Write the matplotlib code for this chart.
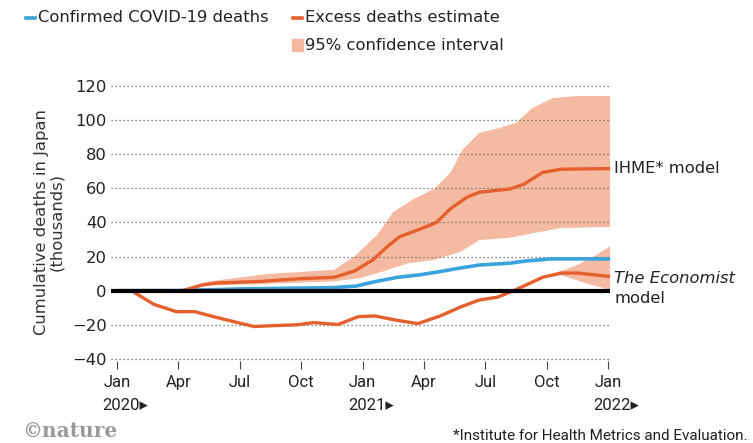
import matplotlib
matplotlib.use("Agg")
import matplotlib.pyplot as plt
from matplotlib.lines import Line2D
from matplotlib.patches import Rectangle
import numpy as np

# %% Data (x in months since Jan 2020, y in thousands of deaths)
ORANGE = "#e5602e"
BAND = "#f4baa2"
BLUE = "#3aa3dc"

confirmed_x = [0, 3, 6, 9, 10.6, 11.7, 12.5, 13.7, 14.8, 15.8, 16.8, 17.7, 19.2, 20, 21.2, 24.1]
confirmed_y = [0, 0.05, 1.0, 1.5, 1.8, 2.7, 5, 7.8, 9.3, 11.2, 13.3, 15, 16.1, 17.4, 18.6, 18.6]

ihme_x = [0, 3.2, 4.2, 4.9, 7.0, 8.9, 10.6, 11.6, 12.5, 13.2, 13.8, 14.8, 15.6, 16.3, 17.1, 17.7,
          19.2, 19.9, 20.8, 21.7, 24.1]
ihme_y = [0, 0, 3.5, 4.5, 5.4, 7, 7.8, 11.5, 18, 25.7, 31.5, 36, 39.8, 48, 54.7, 57.6,
          59.5, 62.4, 69.2, 71.1, 71.5]
ihme_hi_x = [3.2, 4.5, 7.3, 10.6, 11.6, 12.7, 13.5, 14.5, 15.5, 16.3, 16.9, 17.7, 18.7, 19.5,
             20.3, 21.3, 22.5, 24.1]
ihme_hi = [0, 5.4, 9.7, 12.2, 20, 32.5, 46, 53.7, 59.5, 69.2, 82.7, 92.4, 95.3, 98.2,
           106.9, 112.7, 114, 114]
ihme_lo_x = [3.2, 4.5, 7.0, 10.6, 11.9, 13.0, 14.2, 15.5, 16.8, 17.7, 19.2, 20.5, 21.7, 24.1]
ihme_lo = [0, 3, 3.9, 5.4, 7.4, 11.2, 16, 18, 22.8, 29.6, 31, 34, 36.7, 37.3]

econ_x = [0, 0.7, 1.8, 2.9, 3.8, 4.9, 5.9, 6.7, 7.6, 8.8, 9.6, 10.8, 11.8, 12.6, 13.7, 14.7,
          15.8, 16.8, 17.7, 18.6, 19.5, 20.8, 21.7, 22.5, 24.1]
econ_y = [0, 0, -8, -12.3, -12.3, -15.8, -18.7, -21, -20.5, -20, -18.7, -19.8, -15.2, -14.8,
          -17.4, -19.3, -14.8, -9.5, -5.5, -3.8, 0.6, 7.8, 10.3, 10.3, 8.3]
econ_ci_x = [20.8, 21.7, 22.5, 23.3, 24.1]
econ_hi = [7.8, 11.5, 15, 20, 26]
econ_lo = [7.8, 9, 6, 3, 0.5]

tick_months = list(range(0, 25, 3))
tick_names = ["Jan", "Apr", "Jul", "Oct"] * 2 + ["Jan"]
year_labels = {0: "2020▸", 12: "2021▸", 24: "2022▸"}
y_ticks = [-40, -20, 0, 20, 40, 60, 80, 100, 120]

FONT = ["DejaVu Sans"]
NARROW = ["Roboto", "DejaVu Sans"]
plt.rcParams["font.family"] = FONT
TXT = "#222222"
FS = 11.8

# %% Figure
fig = plt.figure(figsize=(7.53, 4.43), dpi=100)
ax = fig.add_axes([0.1473, 0.1858, 0.6643, 0.6246])
ax.set_xlim(-0.3, 24.15)
ax.set_ylim(-41, 121)
for s in ax.spines.values():
    s.set_visible(False)

# dotted grid (sits on top of the bands, under the lines)
grid_y = [v for v in y_ticks if v != 0]
ax.hlines(grid_y, -0.3, 24.05, colors="#666666", linestyles=(0, (1, 2.2)), lw=0.9, zorder=2)

# bands
ax.fill(np.concatenate([ihme_hi_x, ihme_lo_x[::-1]]),
        np.concatenate([ihme_hi, ihme_lo[::-1]]), color=BAND, lw=0, zorder=1)
ax.fill(np.concatenate([econ_ci_x, econ_ci_x[::-1]]),
        np.concatenate([econ_hi, econ_lo[::-1]]), color=BAND, lw=0, zorder=1)

ax.plot(confirmed_x, confirmed_y, color=BLUE, lw=2.6, zorder=3, solid_capstyle="butt")
ax.plot(ihme_x, ihme_y, color=ORANGE, lw=2.4, zorder=4, solid_capstyle="butt")
ax.plot(econ_x, econ_y, color=ORANGE, lw=2.4, zorder=4, solid_capstyle="butt")
ax.plot([-0.3, 24.1], [0, 0], color="black", lw=3, zorder=5, solid_capstyle="butt")

# y ticks
ax.set_yticks(y_ticks)
ax.set_yticklabels([str(v).replace("-", "\u2212") for v in y_ticks])
ax.tick_params(axis="y", length=0, pad=3, labelsize=FS, labelcolor=TXT)

# x ticks
ax.set_xticks(tick_months)
ax.set_xticklabels([])
ax.tick_params(axis="x", length=6, width=0.8, color="#444444", direction="out", pad=0)
for m, name in zip(tick_months, tick_names):
    ax.text(m, -54, name, ha="center", va="center", fontsize=12, color=TXT, family=NARROW)
    if m in year_labels:
        ax.text(m - 0.7, -67, year_labels[m], ha="left", va="center", fontsize=12,
                color=TXT, family=NARROW)

ax.set_ylabel("Cumulative deaths in Japan\n(thousands)", fontsize=FS, color="#333333",
              labelpad=6, linespacing=1.0)

# right-hand labels
ax.text(24.3, 71.8, "IHME* model", ha="left", va="center", fontsize=FS, color=TXT)
ax.text(24.3, 7.4, "The Economist", ha="left", va="center", fontsize=FS, color=TXT,
        style="italic")
ax.text(24.3, -4.3, "model", ha="left", va="center", fontsize=FS, color=TXT)

# legend
fig.add_artist(Line2D([26 / 753, 35 / 753], [1 - 18 / 443] * 2, color=BLUE, lw=2.6))
fig.text(38 / 753, 1 - 18 / 443, "Confirmed COVID-19 deaths", ha="left", va="center",
         fontsize=FS, color=TXT)
fig.add_artist(Line2D([293 / 753, 302 / 753], [1 - 18 / 443] * 2, color=ORANGE, lw=2.6))
fig.text(305 / 753, 1 - 18 / 443, "Excess deaths estimate", ha="left", va="center",
         fontsize=FS, color=TXT)
fig.add_artist(Rectangle((292 / 753, 1 - 51 / 443), 11 / 753, 12 / 443, color=BAND,
                         transform=fig.transFigure))
fig.text(305 / 753, 1 - 45 / 443, "95% confidence interval", ha="left", va="center",
         fontsize=FS, color=TXT)

# footer
fig.text(22 / 753, 1 - 432 / 443, "©nature", ha="left", va="center", fontsize=14.5,
         family="DejaVu Serif", weight="bold", color="#9a9a9a")
fig.text(748 / 753, 1 - 436 / 443, "*Institute for Health Metrics and Evaluation.",
         ha="right", va="center", fontsize=11, color=TXT, family=NARROW)

fig.savefig("out.png", dpi=100)
